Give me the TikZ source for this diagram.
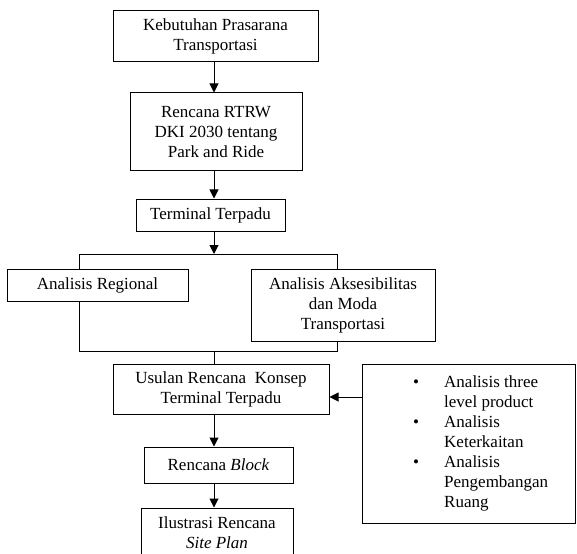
\documentclass[tikz,border=0pt]{standalone}
\usepackage{fontspec}
\setmainfont{Liberation Serif}
\usetikzlibrary{arrows.meta}
\begin{document}
\begin{tikzpicture}[x=1pt,y=-1pt,
  box/.style={draw,line width=1pt,fill=white,align=center,inner sep=2pt,
    font=\fontsize{17}{20}\selectfont},
  link/.style={line width=1pt},
  arr/.style={line width=1pt,-{Triangle[width=9pt,length=9pt]}}]
\useasboundingbox (0,0) rectangle (577,553);
\coordinate (axis) at (214,0);
\coordinate (bl) at (79,0);
\coordinate (br) at (337,0);
\coordinate (btop) at (214,254);
\coordinate (bbot) at (214,351);
\coordinate (sidey) at (0,397);
% bracket frame behind the two analysis boxes
\draw[link] (bl |- btop) -- (br |- btop) -- (br |- bbot) -- (bl |- bbot) -- cycle;
% boxes
\node[box,minimum width=205pt,minimum height=51pt] (kebutuhan) at (215.5,36.5)
  {Kebutuhan Prasarana\\Transportasi};
\node[box,minimum width=172pt,minimum height=78pt] (rtrw) at (216,132)
  {Rencana RTRW\\DKI 2030 tentang\\Park and Ride};
\node[box,minimum width=149pt,minimum height=32pt] (terminal) at (210.5,215)
  {Terminal Terpadu};
\node[box,minimum width=181pt,minimum height=32pt] (regional) at (97.5,285)
  {Analisis Regional};
\node[box,minimum width=184pt,minimum height=72pt] (aksesibilitas) at (343,305)
  {Analisis Aksesibilitas\\dan Moda\\Transportasi};
\node[box,minimum width=216pt,minimum height=50pt] (usulan) at (221,389)
  {Usulan Rencana\ \ Konsep\\Terminal Terpadu};
\node[box,minimum width=149pt,minimum height=36pt] (block) at (218.5,465)
  {Rencana \textit{Block}};
\node[box,minimum width=152pt,minimum height=50pt] (ilustrasi) at (217,533)
  {Ilustrasi Rencana\\\textit{Site Plan}};
\node[draw,line width=1pt,minimum width=213.5pt,minimum height=159pt] (side) at (468.75,443.5) {};
\node[anchor=north west,inner sep=0pt,font=\fontsize{17}{20}\selectfont] (sidetext) at (413,373)
  {\begin{tabular}{@{}p{31pt}@{}l@{}}
   \textbullet & Analisis three\\
               & level product\\
   \textbullet & Analisis\\
               & Keterkaitan\\
   \textbullet & Analisis\\
               & Pengembangan\\
               & Ruang
   \end{tabular}};
% connectors
\draw[arr] (kebutuhan.south -| axis) -- (rtrw.north -| axis);
\draw[arr] (rtrw.south -| axis) -- (terminal.north -| axis);
\draw[arr] (terminal.south -| axis) -- (btop);
\draw[link] (bbot) -- (usulan.north -| axis);
\draw[arr] (usulan.south -| axis) -- (block.north -| axis);
\draw[arr] (block.south -| axis) -- (ilustrasi.north -| axis);
\draw[arr] (side.west |- sidey) -- (usulan.east |- sidey);
\end{tikzpicture}
\end{document}
